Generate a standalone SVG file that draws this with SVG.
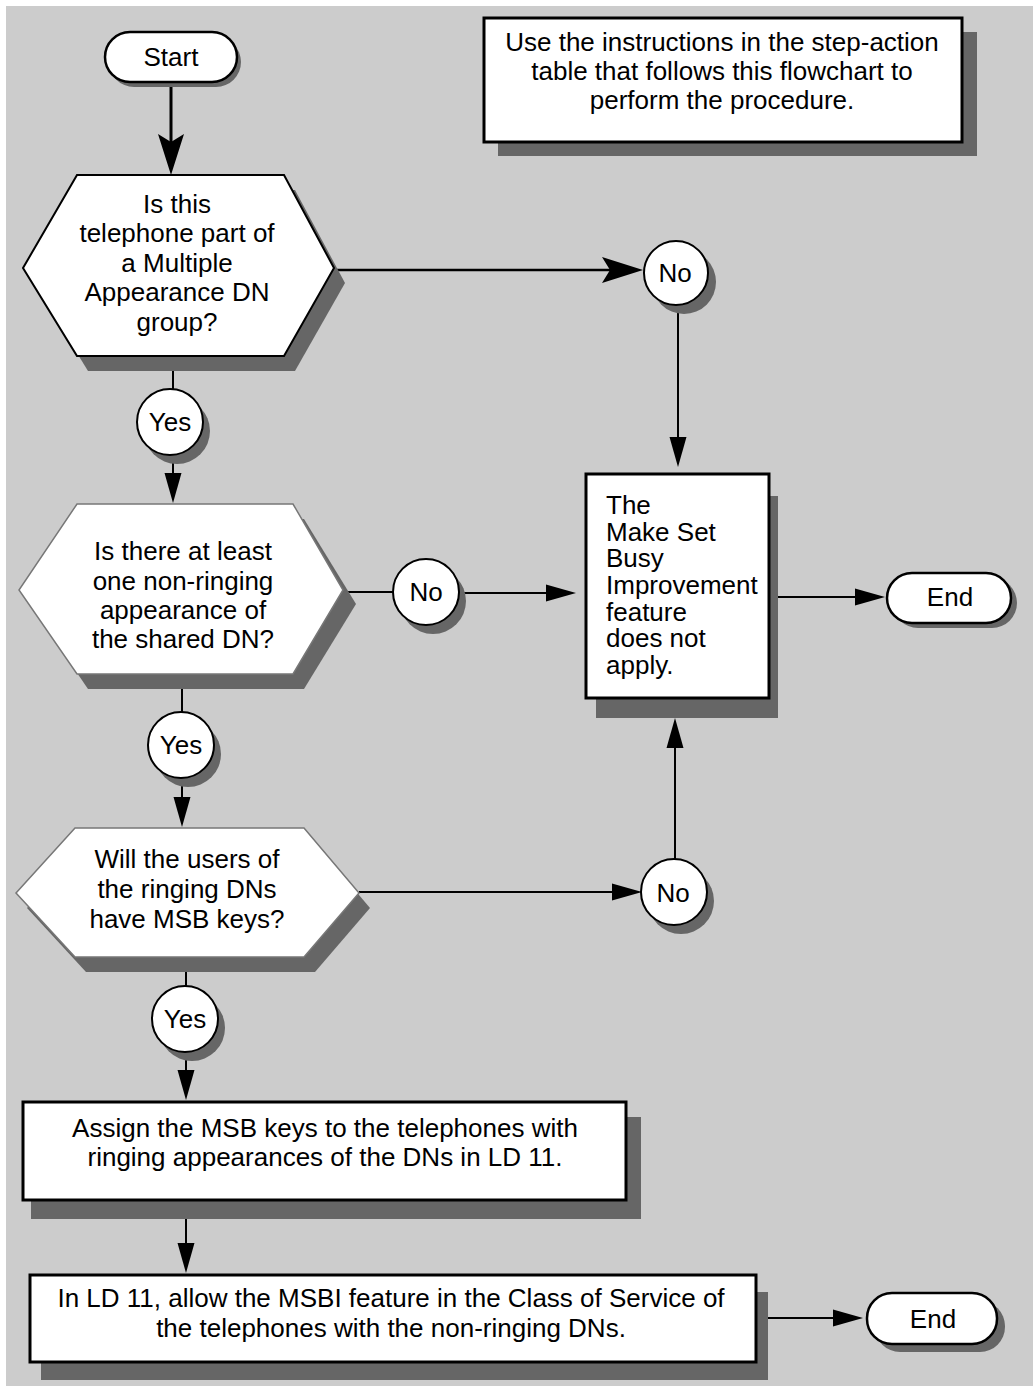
<svg xmlns="http://www.w3.org/2000/svg" width="1033" height="1386" viewBox="0 0 1033 1386">
<style>
text{font-family:"Liberation Sans",Arial,Helvetica,sans-serif;font-size:26px;fill:#000}
.c{text-anchor:middle}
.sh{fill:#666}
.box{fill:#fff;stroke:#000;stroke-width:3}
.hexb{fill:#fff;stroke:#000;stroke-width:2}
.hexg{fill:#fff;stroke:#777;stroke-width:1.5}
.term{fill:#fff;stroke:#000;stroke-width:2.5}
.circ{fill:#fff;stroke:#000;stroke-width:2}
.ln{fill:none;stroke:#000;stroke-width:2}
.lnb{fill:none;stroke:#000;stroke-width:3}
</style>
<defs>
<marker id="ahb" markerUnits="userSpaceOnUse" markerWidth="45" markerHeight="30" refX="8" refY="13" orient="auto" overflow="visible"><path d="M0,0 L41,13 L0,26 L8,13 Z" fill="#000"/></marker>
<marker id="ah" markerUnits="userSpaceOnUse" markerWidth="34" markerHeight="20" refX="1" refY="8.5" orient="auto" overflow="visible"><path d="M0,0 L30,8.5 L0,17 Z" fill="#000"/></marker>
</defs>
<rect x="6" y="6" width="1027" height="1380" fill="#ccc"/>

<g id="connectors">
<path class="lnb" d="M171,82 V142" marker-end="url(#ahb)"/>
<path class="ln" style="stroke-width:2.5" d="M334,270 H610" marker-end="url(#ahb)"/>
<path class="ln" d="M678,305 V438" marker-end="url(#ah)"/>
<path class="ln" d="M173,356 V390"/>
<path class="ln" d="M173,455 V474" marker-end="url(#ah)"/>
<path class="ln" d="M343,592 H393"/>
<path class="ln" d="M460,593 H547" marker-end="url(#ah)"/>
<path class="ln" d="M769,597 H856" marker-end="url(#ah)"/>
<path class="ln" d="M182,674 V712"/>
<path class="ln" d="M182,778 V798" marker-end="url(#ah)"/>
<path class="ln" d="M359,892 H613" marker-end="url(#ah)"/>
<path class="ln" d="M675,860 V747" marker-end="url(#ah)"/>
<path class="ln" d="M186,957 V987"/>
<path class="ln" d="M186,1051 V1071" marker-end="url(#ah)"/>
<path class="ln" d="M186,1217 V1244" marker-end="url(#ah)"/>
<path class="ln" d="M756,1318 H834" marker-end="url(#ah)"/>
</g>

<g id="start">
<rect class="sh" x="109" y="37" width="132" height="50" rx="25"/>
<rect class="term" x="105" y="32" width="132" height="50" rx="25"/>
<text class="c" x="171" y="66">Start</text>
</g>

<g id="note">
<rect class="sh" x="498" y="32" width="479" height="124"/>
<rect class="box" x="484" y="18" width="478" height="124"/>
<text class="c" x="722" y="51">Use the instructions in the step-action</text>
<text class="c" x="722" y="80">table that follows this flowchart to</text>
<text class="c" x="722" y="109">perform the procedure.</text>
</g>

<g id="q1">
<polygon class="sh" points="88,190 295,190 345,283 295,371 88,371 34,283"/>
<polygon class="hexb" points="77,175 284,175 334,268 284,356 77,356 23,268"/>
<text class="c" x="177" y="213">Is this</text>
<text class="c" x="177" y="242">telephone part of</text>
<text class="c" x="177" y="272">a Multiple</text>
<text class="c" x="177" y="301">Appearance DN</text>
<text class="c" x="177" y="331">group?</text>
</g>

<g id="no1">
<circle class="sh" cx="684" cy="282" r="32"/>
<circle class="circ" cx="676" cy="273" r="32"/>
<text class="c" x="675" y="282">No</text>
</g>

<g id="yes1">
<circle class="sh" cx="177" cy="431" r="33"/>
<circle class="circ" cx="170" cy="422" r="33"/>
<text class="c" x="170" y="431">Yes</text>
</g>

<g id="q2">
<polygon class="sh" points="88,519 304,519 356,604 304,689 88,689 30,604"/>
<polygon class="hexg" points="77,504 293,504 343,590 293,674 77,674 19,590"/>
<text class="c" x="183" y="560">Is there at least</text>
<text class="c" x="183" y="590">one non-ringing</text>
<text class="c" x="183" y="619">appearance of</text>
<text class="c" x="183" y="648">the shared DN?</text>
</g>

<g id="no2">
<circle class="sh" cx="433" cy="601" r="33"/>
<circle class="circ" cx="426" cy="592" r="33"/>
<text class="c" x="426" y="601">No</text>
</g>

<g id="na">
<rect class="sh" x="596" y="496" width="182" height="222"/>
<rect class="box" x="586" y="474" width="183" height="224"/>
<text x="606" y="514">The</text>
<text x="606" y="541">Make Set</text>
<text x="606" y="567">Busy</text>
<text x="606" y="594">Improvement</text>
<text x="606" y="621">feature</text>
<text x="606" y="647">does not</text>
<text x="606" y="674">apply.</text>
</g>

<g id="end1">
<rect class="sh" x="893" y="578" width="124" height="50" rx="25"/>
<rect class="term" x="887" y="573" width="124" height="50" rx="25"/>
<text class="c" x="950" y="606">End</text>
</g>

<g id="yes2">
<circle class="sh" cx="188" cy="754" r="33"/>
<circle class="circ" cx="181" cy="745" r="33"/>
<text class="c" x="181" y="754">Yes</text>
</g>

<g id="q3">
<polygon class="sh" points="86,843 315,843 370,908 315,972 86,972 27,908"/>
<polygon class="hexg" points="75,828 304,828 359,893 304,957 75,957 16,893"/>
<text class="c" x="187" y="868">Will the users of</text>
<text class="c" x="187" y="898">the ringing DNs</text>
<text class="c" x="187" y="928">have MSB keys?</text>
</g>

<g id="no3">
<circle class="sh" cx="681" cy="901" r="33"/>
<circle class="circ" cx="674" cy="892" r="33"/>
<text class="c" x="673" y="902">No</text>
</g>

<g id="yes3">
<circle class="sh" cx="192" cy="1028" r="33"/>
<circle class="circ" cx="185" cy="1019" r="33"/>
<text class="c" x="185" y="1028">Yes</text>
</g>

<g id="assign">
<rect class="sh" x="31" y="1117" width="610" height="102"/>
<rect class="box" x="23" y="1102" width="603" height="98"/>
<text class="c" x="325" y="1137">Assign the MSB keys to the telephones with</text>
<text class="c" x="325" y="1166">ringing appearances of the DNs in LD 11.</text>
</g>

<g id="allow">
<rect class="sh" x="41" y="1292" width="727" height="88"/>
<rect class="box" x="30" y="1275" width="726" height="87"/>
<text class="c" x="391" y="1307">In LD 11, allow the MSBI feature in the Class of Service of</text>
<text class="c" x="391" y="1337">the telephones with the non-ringing DNs.</text>
</g>

<g id="end2">
<rect class="sh" x="875" y="1301" width="130" height="51" rx="25"/>
<rect class="term" x="867" y="1293" width="130" height="51" rx="25"/>
<text class="c" x="933" y="1328">End</text>
</g>
</svg>
